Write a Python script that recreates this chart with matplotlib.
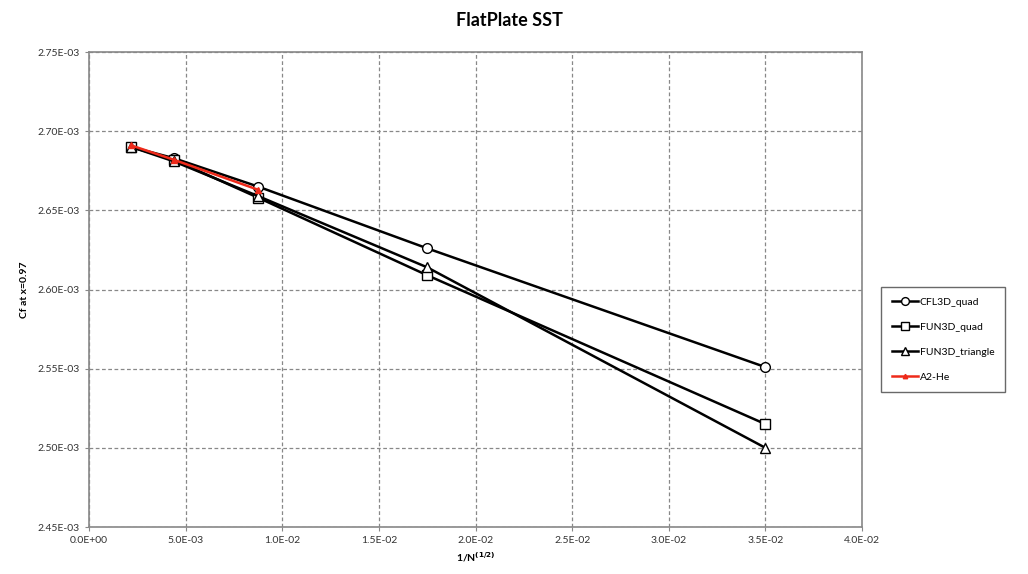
import matplotlib
matplotlib.use("Agg")
import matplotlib.pyplot as plt
from matplotlib.ticker import FuncFormatter

x_vals = [0.0021875, 0.004375, 0.00875, 0.0175, 0.035]
cfl3d_quad = [2.690e-3, 2.683e-3, 2.665e-3, 2.626e-3, 2.551e-3]
fun3d_quad = [2.690e-3, 2.682e-3, 2.658e-3, 2.609e-3, 2.515e-3]
fun3d_tri = [2.690e-3, 2.681e-3, 2.659e-3, 2.614e-3, 2.500e-3]
a2he_x = [0.0021875, 0.004375, 0.00875]
a2he = [2.691e-3, 2.682e-3, 2.663e-3]

x_ticks = [0.0, 0.005, 0.01, 0.015, 0.02, 0.025, 0.03, 0.035, 0.04]
y_ticks = [2.45e-3, 2.50e-3, 2.55e-3, 2.60e-3, 2.65e-3, 2.70e-3, 2.75e-3]

plt.rcParams['font.family'] = ['Lato', 'DejaVu Sans']

fig = plt.figure(figsize=(10.28, 5.74), dpi=100)
ax = fig.add_axes([89/1028, 1-527/574, (862-89)/1028, (527-52)/574])

mk = dict(markerfacecolor='white', markeredgecolor='black', markersize=7, markeredgewidth=1.0)
ax.plot(x_vals, cfl3d_quad, '-o', color='black', lw=1.8, label='CFL3D_quad', **mk, zorder=3)
ax.plot(x_vals, fun3d_quad, '-s', color='black', lw=1.8, label='FUN3D_quad', **mk, zorder=3)
ax.plot(x_vals, fun3d_tri, '-^', color='black', lw=1.8, label='FUN3D_triangle', **mk, zorder=3)
ax.plot(a2he_x, a2he, '-^', color='#ee2a1a', lw=1.8, label='A2-He', markersize=4,
        markerfacecolor='#ee2a1a', markeredgecolor='#ee2a1a', zorder=4)

ax.set_xlim(0, 0.04)
ax.set_ylim(2.45e-3, 2.75e-3)
ax.set_xticks(x_ticks)
ax.set_yticks(y_ticks)

ax.xaxis.set_major_formatter(FuncFormatter(lambda v, p: "%.1E" % v))
ax.yaxis.set_major_formatter(FuncFormatter(lambda v, p: "%.2E" % v))
ax.tick_params(labelsize=7.5, length=3, color='#888888', labelcolor='#333333')

ax.grid(True, linestyle=(0, (3, 2)), color='#888888', linewidth=0.9)
for s in ax.spines.values():
    s.set_color('#888888')
    s.set_linewidth(1.2)

ax.set_xlabel(r'1/N$^{\mathbf{(1/2)}}$', fontsize=7.5, fontweight='bold', labelpad=4)
ax.set_ylabel('Cf at x=0.97', fontsize=7.5, fontweight='bold', labelpad=6)

fig.text(0.496, 0.965, 'FlatPlate SST', ha='center', va='center', fontsize=13, fontweight='bold')

leg = fig.legend(loc='upper left', bbox_to_anchor=(876/1028, 1-282/574), fontsize=7.5,
                 frameon=True, fancybox=False, edgecolor='#444444', borderpad=1.0,
                 labelspacing=1.5, handlelength=2.5, handletextpad=0.2, markerscale=0.8)
leg.get_frame().set_linewidth(1.0)

fig.savefig('out.png', dpi=100)
